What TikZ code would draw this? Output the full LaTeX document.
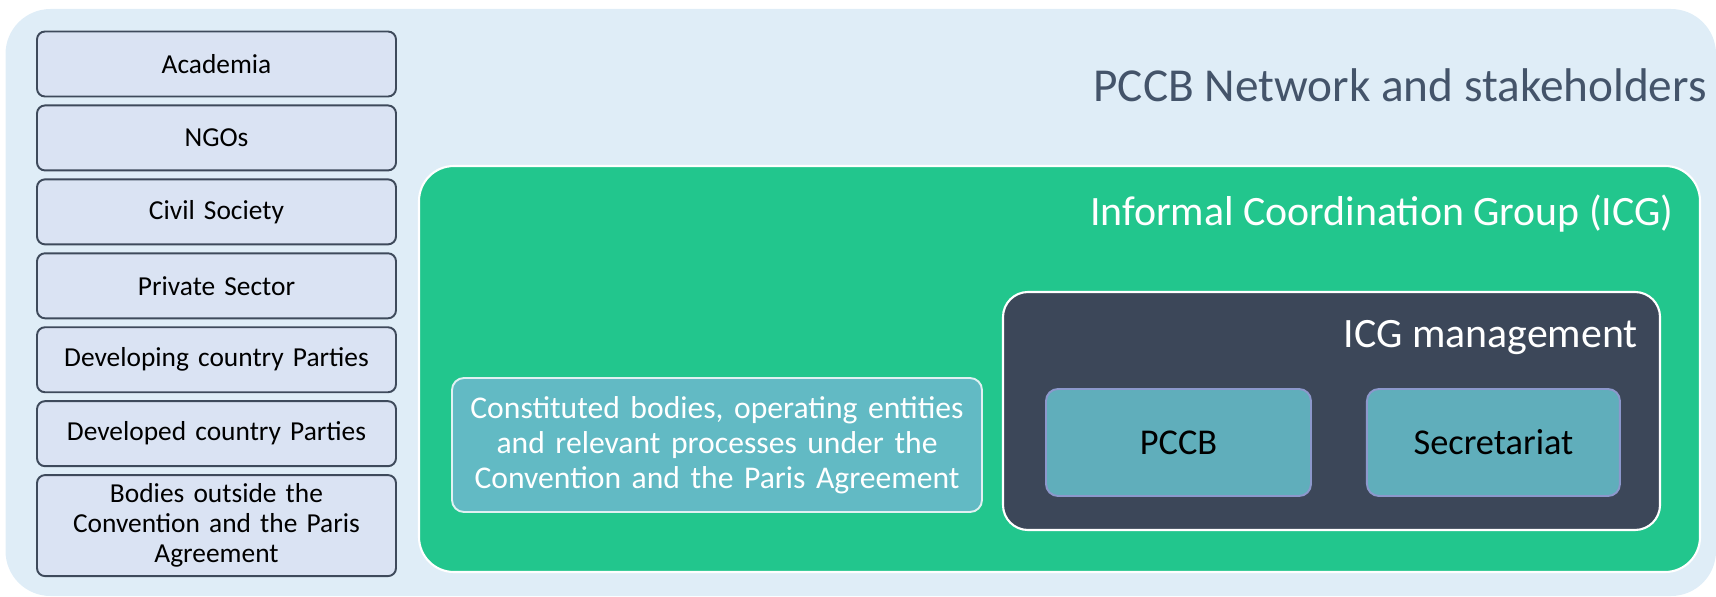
\documentclass[tikz,border=0pt]{standalone}
\usepackage{fontspec}
\setmainfont{Carlito}
\usetikzlibrary{positioning}

\definecolor{netbg}{HTML}{DFEDF7}
\definecolor{stakefill}{HTML}{DAE3F3}
\definecolor{stakeline}{HTML}{3E4A5B}
\definecolor{titlegray}{HTML}{44546A}
\definecolor{icggreen}{HTML}{22C68D}
\definecolor{bodyfill}{HTML}{62BAC4}
\definecolor{mgmtdark}{HTML}{3C4759}
\definecolor{memberfill}{HTML}{60AEBB}
\definecolor{memberline}{HTML}{8C98CC}

\begin{document}
\begin{tikzpicture}

% definitions
\tikzstyle{stakeholder} = [rectangle, rounded corners=0.16cm, minimum width=7.18cm, minimum height=1.30cm, text centered, draw=stakeline, line width=1.1pt, fill=stakefill, text width=6.8cm, font=\fontsize{15.6}{17}\selectfont]

\tikzstyle{bodies} = [rectangle, rounded corners=0.24cm, minimum width=10.6cm, minimum height=2.68cm, text centered, draw=white!80!bodyfill, line width=1.1pt, fill=bodyfill, text=white, text width=10.2cm, font=\fontsize{18}{19.8}\selectfont]

\tikzstyle{member} = [rectangle, rounded corners=0.24cm, minimum width=5.3cm, minimum height=2.14cm, text centered, draw=memberline, line width=1.1pt, fill=memberfill, text=black, font=\fontsize{20.7}{24}\selectfont]

\tikzstyle{heading} = [anchor=base east, inner sep=0pt]

\useasboundingbox (0,0) rectangle (34.32,-11.92);

% containers
\fill [netbg, rounded corners=0.9cm] (0.11,-0.18) rectangle (34.32,-11.92);
\draw [fill=icggreen, draw=white, line width=1.2pt, rounded corners=0.7cm] (8.38,-3.32) rectangle (34.0,-11.44);
\draw [fill=mgmtdark, draw=white, line width=1.2pt, rounded corners=0.5cm] (20.06,-5.84) rectangle (33.2,-10.6);

% headings
\node (nettitle) [heading, text=titlegray, font=\fontsize{26.9}{32}\selectfont] at (34.14,-2.02) {PCCB Network and stakeholders};

\node (icgtitle) [heading, text=white, font=\fontsize{23.8}{28}\selectfont] at (33.48,-4.50) {Informal Coordination Group (ICG)};

\node (mgmttitle) [heading, text=white, font=\fontsize{23.8}{28}\selectfont] at (32.76,-6.95) {ICG management};

% stakeholders
\node (aca) [stakeholder] at (4.33,-1.28) {Academia};

\node (ngo) [stakeholder, below=0.14cm of aca] {NGOs};

\node (civ) [stakeholder, below=0.14cm of ngo] {Civil Society};

\node (pri) [stakeholder, below=0.14cm of civ] {Private Sector};

\node (dvg) [stakeholder, below=0.14cm of pri] {Developing country Parties};

\node (dvd) [stakeholder, below=0.14cm of dvg] {Developed country Parties};

\node (outb) [stakeholder, below=0.14cm of dvd, minimum height=2.02cm] {Bodies outside the\\ Convention and the Paris\\ Agreement};

% ICG members
\node (cb) [bodies] at (14.34,-8.90) {Constituted bodies, operating entities\\ and relevant processes under the\\ Convention and the Paris Agreement};

\node (pccb) [member] at (23.57,-8.85) {PCCB};

\node (sec) [member, minimum width=5.06cm, right=1.08cm of pccb] {Secretariat};

\end{tikzpicture}
\end{document}
